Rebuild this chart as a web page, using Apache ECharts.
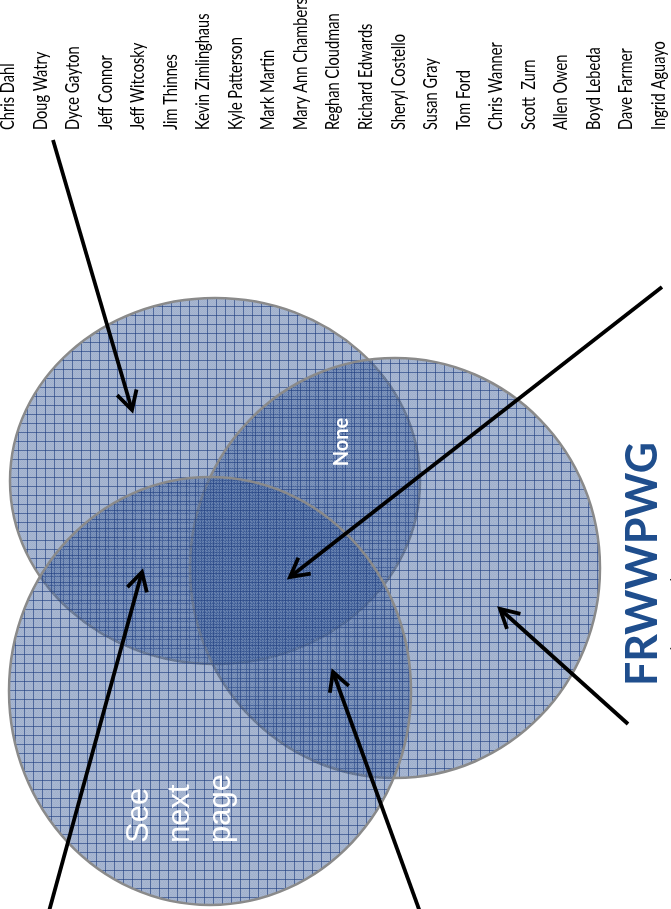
<!DOCTYPE html>
<html><head><meta charset="utf-8">
<script src="https://cdn.jsdelivr.net/npm/echarts@6/dist/echarts.min.js"></script>
<style>html,body{margin:0;padding:0;background:#fff;overflow:hidden}#c{width:671px;height:909px}</style>
</head><body><div id="c"></div>
<script>
// ---- data ----
const names = ['Chris Dahl','Doug Watry','Dyce Gayton','Jeff Connor','Jeff Witcosky','Jim Thinnes',
  'Kevin Zimlinghaus','Kyle Patterson','Mark Martin','Mary Ann Chambers','Reghan Cloudman',
  'Richard Edwards','Sheryl Costello','Susan Gray','Tom Ford','Chris Wanner','Scott  Zurn',
  'Allen Owen','Boyd Lebeda','Dave Farmer','Ingrid Aguayo'];
// ellipses: [cx, cy, rx, ry, patternOffset]
const circleA = [215, 481, 205, 183, 0];
const circleB = [395, 568, 205, 210, 3];
const circleC = [210, 691, 201, 214, 6];
// arrows: [x0, y0, x1(tip), y1(tip)]
const arrowNames = [53, 140, 132, 410];
const arrowCenter = [662, 287, 290, 577];
const arrowRight = [628, 724, 500, 609];
const arrowLeft = [48, 915, 142, 572];
const arrowBottom = [420, 912, 333, 672];
// region labels: [x, y, text]
const labelNone = [342, 442, 'None'];
const labelSee = [180, 843, 'See\nnext\npage'];
const labelTitle = [643, 564, 'FRWWPWG'];
const formLines = [[669, 905, 'Full Name:'], [669, 760, 'Organization (optional):']];

function makePattern(off) {
  const n = 9;
  const cv = document.createElement('canvas');
  cv.width = n; cv.height = n;
  const g = cv.getContext('2d');
  g.fillStyle = 'rgba(56,90,150,0.48)';
  g.fillRect(0, 0, n, n);
  g.fillStyle = 'rgba(255,255,255,0.09)';
  for (let i = 0; i < n; i++) for (let j = 0; j < n; j++) if ((i + j) % 2 === 0) g.fillRect(i, j, 1, 1);
  g.fillStyle = 'rgba(30,62,128,0.62)';
  g.fillRect(off, 0, 1, n);
  g.fillRect(0, off, n, 1);
  return cv;
}

const chart = echarts.init(document.getElementById('c'), null, {renderer: 'canvas'});

function ellipseSeries(c) {
  const pat = makePattern(c[4]);
  return {
    type: 'custom', coordinateSystem: 'cartesian2d', data: [[c[0], c[1], c[2], c[3]]],
    renderItem: function (params, api) {
      const p = api.coord([api.value(0), api.value(1)]);
      const s = api.size([api.value(2), api.value(3)]);
      return {type: 'ellipse', shape: {cx: p[0], cy: p[1], rx: s[0], ry: s[1]},
        style: {fill: {image: pat, repeat: 'repeat'}, stroke: '#8a8a8a', lineWidth: 2.5}};
    }, silent: true, z: 1
  };
}

function arrowSeries(list) {
  return {
    type: 'custom', coordinateSystem: 'cartesian2d', data: list, z: 5, silent: true,
    renderItem: function (params, api) {
      const a = api.coord([api.value(0), api.value(1)]);
      const b = api.coord([api.value(2), api.value(3)]);
      const ang = Math.atan2(b[1] - a[1], b[0] - a[0]);
      const L = 21, w = 0.5;
      const p1 = [b[0] - L * Math.cos(ang - w), b[1] - L * Math.sin(ang - w)];
      const p2 = [b[0] - L * Math.cos(ang + w), b[1] - L * Math.sin(ang + w)];
      return {type: 'group', children: [
        {type: 'line', shape: {x1: a[0], y1: a[1], x2: b[0], y2: b[1]}, style: {stroke: '#000', lineWidth: 3.8}},
        {type: 'polyline', shape: {points: [p1, b, p2]}, style: {stroke: '#000', lineWidth: 3.8, fill: null, lineJoin: 'miter'}}
      ]};
    }
  };
}

function textSeries(list, font, fill, align, valign, lineHeight, z, sx) {
  return {
    type: 'custom', coordinateSystem: 'cartesian2d', data: list, z: z || 4, silent: true,
    renderItem: function (params, api) {
      const item = list[params.dataIndex];
      const p = api.coord([item[0], item[1]]);
      return {type: 'text', x: p[0], y: p[1], rotation: Math.PI / 2, scaleX: sx || 1,
        style: {text: item[2], font: font, fill: fill, align: align, verticalAlign: valign, lineHeight: lineHeight}};
    }
  };
}

const nameX0 = 8, nameStep = 32.55, nameY = 130;
const nameData = names.map((n, i) => [nameX0 + i * nameStep, nameY, n]);

chart.setOption({
  animation: false,
  backgroundColor: '#ffffff',
  grid: {left: 0, right: 0, top: 0, bottom: 0},
  xAxis: {type: 'value', min: 0, max: 671, show: false},
  yAxis: {type: 'value', min: 0, max: 909, inverse: true, show: false},
  series: [
    ellipseSeries(circleA), ellipseSeries(circleB), ellipseSeries(circleC),
    textSeries([labelNone], 'bold 20px Lato', '#ffffff', 'center', 'middle', 24),
    textSeries([labelSee], '31px "Liberation Sans"', '#ffffff', 'left', 'middle', 41),
    textSeries(nameData, '18.5px Lato', '#000000', 'left', 'middle', 20, 4, 0.79),
    textSeries([labelTitle], 'bold 43px Lato', '#1f4e8d', 'center', 'middle', 50),
    textSeries(formLines, 'bold 18px Lato', '#000000', 'left', 'top', 20),
    arrowSeries([arrowNames, arrowCenter, arrowRight, arrowLeft, arrowBottom])
  ]
});
</script></body></html>
